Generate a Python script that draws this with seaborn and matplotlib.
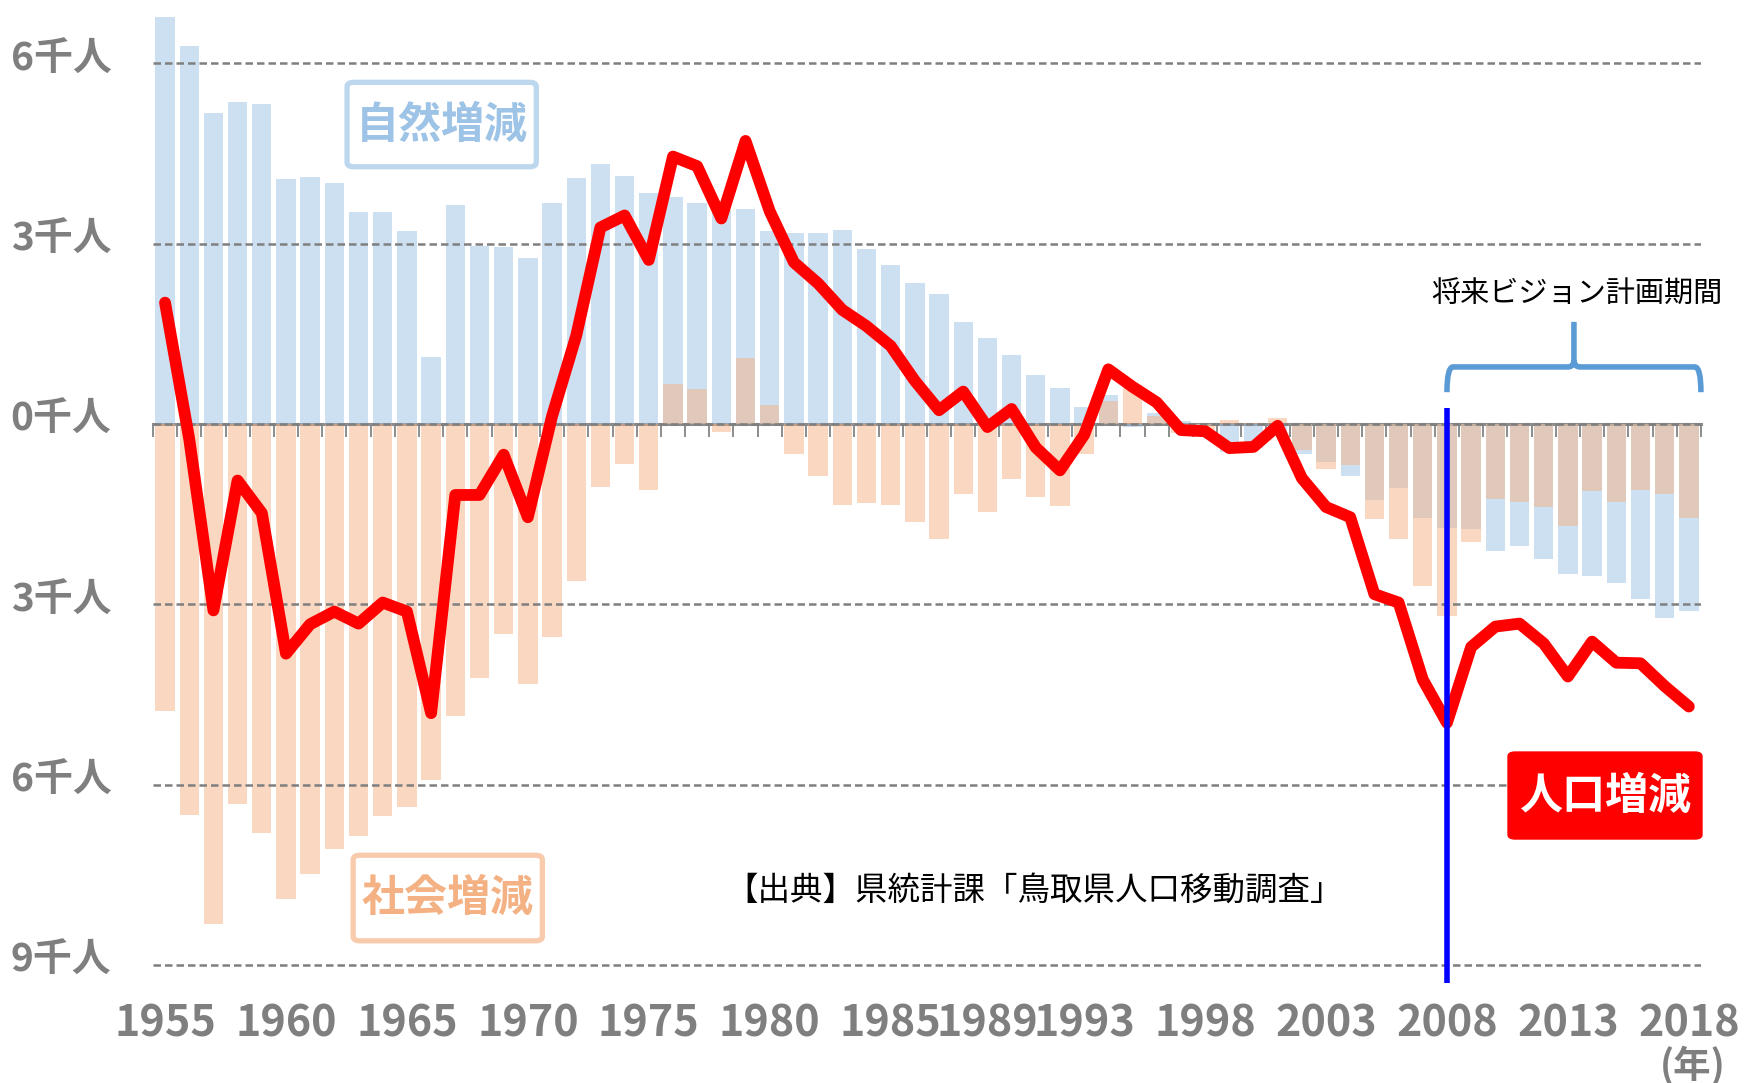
import numpy as np
import pandas as pd
import matplotlib
matplotlib.use("Agg")
import matplotlib.pyplot as plt
from matplotlib.path import Path
from matplotlib.patches import PathPatch, FancyBboxPatch
from matplotlib import transforms
import seaborn as sns

# ---------------- data (thousand persons) ----------------
years = list(range(1955, 2019))

natural = [6.78, 6.29, 5.18, 5.36, 5.32, 4.08, 4.11, 4.01, 3.53, 3.53,
           3.22, 1.11, 3.65, 2.96, 2.95, 2.77, 3.68, 4.09, 4.33, 4.12,
           3.84, 3.77, 3.68, 3.56, 3.58, 3.22, 3.18, 3.18, 3.23, 2.92,
           2.64, 2.35, 2.16, 1.69, 1.43, 1.15, 0.81, 0.60, 0.29, 0.49,
           -0.05, 0.18, 0.05, -0.02, -0.47, -0.40, -0.13, -0.49, -0.63, -0.87,
           -1.26, -1.07, -1.57, -1.73, -1.74, -2.12, -2.03, -2.25, -2.49, -2.53,
           -2.64, -2.91, -3.22, -3.11]

social = [-4.78, -6.50, -8.31, -6.32, -6.81, -7.90, -7.48, -7.07, -6.85, -6.52,
          -6.37, -5.92, -4.85, -4.23, -3.50, -4.33, -3.55, -2.61, -1.04, -0.67,
          -1.09, 0.66, 0.59, -0.13, 1.10, 0.31, -0.50, -0.87, -1.35, -1.31,
          -1.35, -1.63, -1.92, -1.17, -1.47, -0.92, -1.21, -1.36, -0.50, 0.38,
          0.65, 0.14, -0.15, -0.10, 0.07, 0.02, 0.10, -0.43, -0.75, -0.68,
          -1.58, -1.91, -2.70, -3.19, -1.97, -1.25, -1.29, -1.38, -1.69, -1.11,
          -1.30, -1.10, -1.17, -1.57]

total = [2.02, -0.25, -3.10, -0.94, -1.48, -3.82, -3.33, -3.12, -3.32, -2.97,
         -3.12, -4.81, -1.18, -1.18, -0.51, -1.55, 0.13, 1.47, 3.27, 3.47,
         2.73, 4.45, 4.29, 3.42, 4.71, 3.54, 2.69, 2.34, 1.90, 1.63,
         1.30, 0.72, 0.23, 0.54, -0.05, 0.25, -0.39, -0.77, -0.18, 0.91,
         0.62, 0.36, -0.10, -0.12, -0.40, -0.38, -0.03, -0.90, -1.38, -1.55,
         -2.83, -2.97, -4.25, -4.97, -3.71, -3.37, -3.32, -3.65, -4.20, -3.62,
         -3.97, -3.98, -4.36, -4.70]

xtick_years = [1955, 1960, 1965, 1970, 1975, 1980, 1985, 1989, 1993,
               1998, 2003, 2008, 2013, 2018]
ytick_values = [6, 3, 0, -3, -6, -9]
ytick_labels = ["6千人", "3千人", "0千人", "3千人", "6千人", "9千人"]
plan_start = 2008

df = pd.DataFrame({"year": years, "natural": natural,
                   "social": social, "total": total})

# ---------------- style ----------------
sns.set_theme(style="white")
plt.rcParams["font.family"] = ["Noto Sans CJK JP", "DejaVu Sans"]

GRAY = "#7f7f7f"
BLUE = "#9DC3E6"
ORANGE = "#F4B183"

fig = plt.figure(figsize=(17.44, 10.83), dpi=100)
ax = fig.add_axes([0.0877, 0.0923, 0.8876, 0.8991])
ymin, ymax = -9.3, 6.9

sns.barplot(data=df, x="year", y="natural", native_scale=True, color=BLUE,
            saturation=1, alpha=0.5, width=0.8, errorbar=None, ax=ax,
            linewidth=0)
sns.barplot(data=df, x="year", y="social", native_scale=True, color=ORANGE,
            saturation=1, alpha=0.5, width=0.8, errorbar=None, ax=ax,
            linewidth=0)
sns.lineplot(data=df, x="year", y="total", color="#FF0000", lw=8.5, ax=ax,
             zorder=5, solid_joinstyle="round", solid_capstyle="round")

ax.set_xlim(years[0] - 0.5, years[-1] + 0.5)
ax.set_ylim(ymin, ymax)
ax.set_xlabel("")
ax.set_ylabel("")
for s in ax.spines.values():
    s.set_visible(False)

# grid
ax.set_axisbelow(False)
ax.set_yticks(ytick_values)
ax.set_yticklabels(ytick_labels)
ax.grid(axis="y", linestyle=(0, (3, 1.6)), color=GRAY, lw=1.8)
ax.grid(axis="x", visible=False)
ax.tick_params(axis="y", length=0, pad=30, labelsize=28, labelcolor=GRAY)
for lab in ax.get_yticklabels():
    lab.set_fontweight("bold")
    lab.set_transform(lab.get_transform() +
                      transforms.ScaledTranslation(0, 6 / 72, fig.dpi_scale_trans))

ax.set_xticks(xtick_years)
ax.set_xticklabels([str(y) for y in xtick_years])
ax.tick_params(axis="x", length=0, pad=13, labelsize=31, labelcolor=GRAY)
for lab in ax.get_xticklabels():
    lab.set_fontweight("bold")

# zero axis with category-boundary ticks
zero_loc = (0 - ymin) / (ymax - ymin)
sec = ax.secondary_xaxis(zero_loc)
sec.set_alignment("bottom")
sec.set_xticks([y - 0.5 for y in years] + [years[-1] + 0.5])
sec.tick_params(axis="x", direction="out", length=9, width=1.4,
                color="#8c8c8c", labelbottom=False, labeltop=False)
sec.spines["bottom"].set_color("#8c8c8c")
sec.spines["bottom"].set_linewidth(2.2)

# vertical plan line
ax.vlines(plan_start, ymin, 0.27, color="#0000FF", lw=4, zorder=6)

# brace over plan period
x0, x1 = plan_start, years[-1] + 0.5
xm = (x0 + x1) / 2
yb, yh, yt = 0.53, 0.95, 1.70
verts = [(x0, yb), (x0, yh), (x0 + 0.25, yh),
         (xm - 0.25, yh), (xm, yh), (xm, yh + 0.12),
         (xm, yt)]
codes = [Path.MOVETO, Path.CURVE3, Path.CURVE3,
         Path.LINETO, Path.CURVE3, Path.CURVE3, Path.LINETO]
verts2 = [(x1, yb), (x1, yh), (x1 - 0.25, yh),
          (xm + 0.25, yh), (xm, yh), (xm, yh + 0.12)]
codes2 = [Path.MOVETO, Path.CURVE3, Path.CURVE3,
          Path.LINETO, Path.CURVE3, Path.CURVE3]
for v, c in ((verts, codes), (verts2, codes2)):
    ax.add_patch(PathPatch(Path(v, c), fc="none", ec="#5B9BD5", lw=4,
                           capstyle="butt", joinstyle="round", zorder=6,
                           clip_on=False))


def label_box(x, y, w, h, text, tcolor, fc, ec, lw):
    box = FancyBboxPatch((x, y), w, h, boxstyle="round,pad=0,rounding_size=0.004",
                         transform=fig.transFigure, fc=fc, ec=ec, lw=lw,
                         zorder=10)
    fig.patches.append(box)
    fig.text(x + w / 2, y + h / 2, text, ha="center", va="center",
             fontsize=31, fontweight="bold", color=tcolor, zorder=11)


label_box(0.1990, 0.8460, 0.1085, 0.0780, "自然増減", BLUE, "white", "#BDD7EE", 3.8)
label_box(0.2025, 0.1313, 0.1085, 0.0790, "社会増減", ORANGE, "white", "#F8CBAD", 3.8)
label_box(0.8647, 0.2253, 0.1112, 0.0803, "人口増減", "white", "#FF0000", "#FF0000", 1)

fig.text(0.9042, 0.7275, "将来ビジョン計画期間", ha="center", va="center",
         fontsize=21, color="black")
fig.text(0.5929, 0.1773, "【出典】県統計課「鳥取県人口移動調査」", ha="center",
         va="center", fontsize=23.4, color="black")
fig.text(0.9708, 0.0157, "(年)", ha="center", va="center", fontsize=27,
         fontweight="bold", color=GRAY)

fig.savefig("out.png", dpi=100, facecolor="white")
